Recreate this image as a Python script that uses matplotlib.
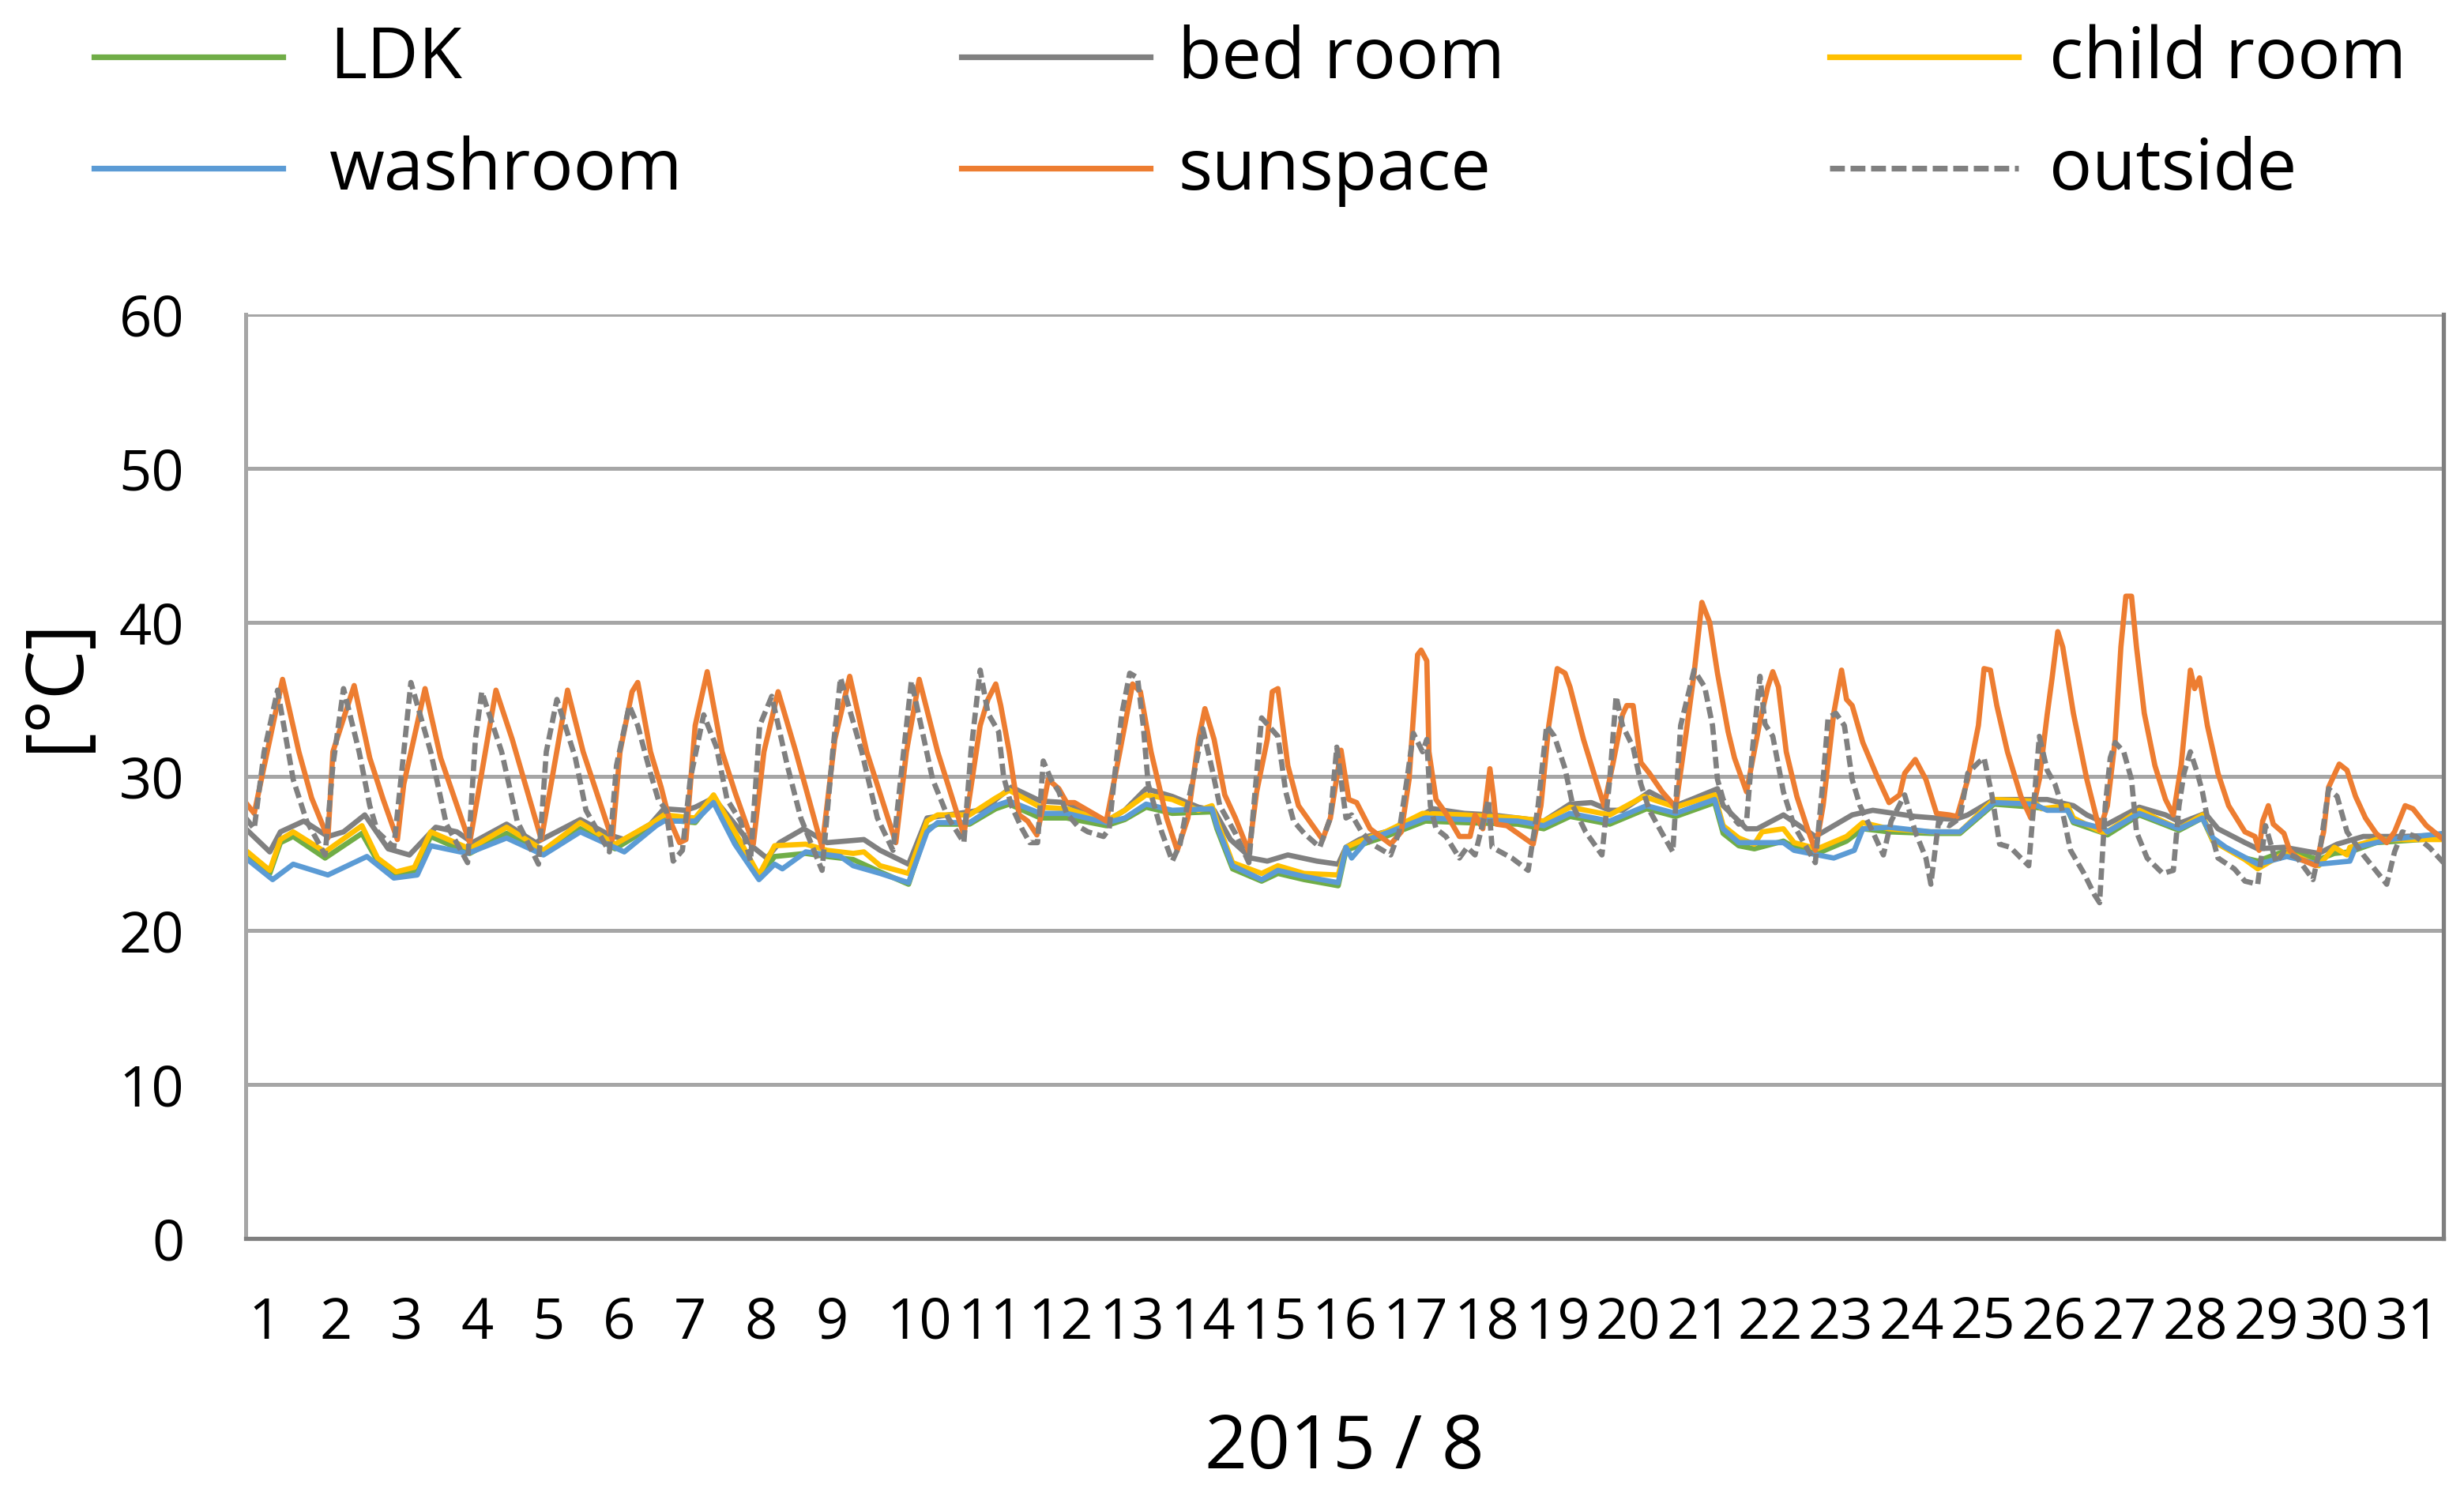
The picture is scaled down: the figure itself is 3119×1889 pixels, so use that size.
import matplotlib
matplotlib.use('Agg')
import matplotlib.pyplot as plt
from matplotlib.lines import Line2D

# ---------------- data (time in days since 2015-08-01 00:00, temperature in degC) ----------------
day_labels = [str(d) for d in range(1, 32)]

sun_t = [0.00, 0.12, 0.52, 0.75, 0.93, 1.16, 1.23, 1.53, 1.75, 1.94, 2.14, 2.23, 2.53, 2.75, 3.16, 3.53,
         3.76, 4.17, 4.54, 4.76, 5.17, 5.28, 5.45, 5.53, 5.71, 5.86, 5.97, 6.12, 6.21, 6.34, 6.51, 6.72,
         6.90, 7.16, 7.31, 7.51, 7.76, 8.13, 8.31, 8.52, 8.76, 9.17, 9.32, 9.50, 9.76, 10.13, 10.36, 10.47,
         10.58, 10.65, 10.77, 10.84, 10.91, 11.03, 11.16, 11.25, 11.32, 11.47, 11.58, 11.69, 12.14, 12.33,
         12.51, 12.62, 12.77, 12.99, 13.14, 13.29, 13.44, 13.53, 13.66, 13.81, 13.96, 14.15, 14.26, 14.41,
         14.48, 14.56, 14.70, 14.85, 15.19, 15.30, 15.45, 15.56, 15.67, 15.86, 16.15, 16.30, 16.41, 16.53,
         16.58, 16.66, 16.69, 16.79, 16.93, 17.12, 17.27, 17.34, 17.45, 17.55, 17.60, 17.64, 17.79, 18.16,
         18.27, 18.38, 18.50, 18.61, 18.68, 18.87, 19.05, 19.16, 19.28, 19.42, 19.48, 19.57, 19.68, 19.80,
         19.98, 20.17, 20.32, 20.43, 20.54, 20.65, 20.76, 20.91, 21.00, 21.17, 21.36, 21.47, 21.54, 21.62,
         21.73, 21.88, 22.03, 22.14, 22.25, 22.40, 22.51, 22.58, 22.66, 22.81, 23.03, 23.18, 23.33, 23.40,
         23.55, 23.70, 23.85, 24.03, 24.14, 24.29, 24.44, 24.52, 24.61, 24.70, 24.85, 25.04, 25.18, 25.30,
         25.41, 25.48, 25.56, 25.63, 25.78, 25.97, 26.15, 26.26, 26.37, 26.45, 26.52, 26.60, 26.67, 26.78,
         26.93, 27.08, 27.19, 27.30, 27.43, 27.49, 27.56, 27.67, 27.82, 27.97, 28.20, 28.34, 28.40, 28.45,
         28.53, 28.60, 28.75, 28.83, 28.94, 29.20, 29.31, 29.38, 29.53, 29.64, 29.76, 29.90, 30.05, 30.20,
         30.31, 30.46, 30.57, 30.76, 31.00]
sun_v = [28.3, 27.6, 36.3, 31.6, 28.6, 26.0, 31.6, 35.9, 31.2, 28.5, 25.9, 29.5, 35.7, 31.2, 25.7, 35.6,
         32.4, 25.9, 35.6, 31.6, 25.9, 31.6, 35.5, 36.1, 31.6, 29.3, 27.3, 25.7, 25.9, 33.3, 36.8, 31.6,
         29.0, 25.6, 31.6, 35.5, 31.6, 25.4, 32.4, 36.5, 31.6, 25.7, 31.6, 36.3, 31.6, 26.2, 33.3, 35.0,
         36.0, 34.6, 31.6, 29.5, 27.5, 27.1, 26.2, 28.1, 29.8, 29.2, 28.3, 28.3, 27.1, 31.6,
         36.0, 35.5, 31.6, 27.3, 25.2, 27.3, 32.4, 34.4, 32.4, 28.8, 27.3, 25.1, 29.0, 32.4,
         35.5, 35.7, 30.7, 28.1, 25.9, 27.3, 31.7, 28.5, 28.3, 26.6, 25.6, 26.4, 29.8, 37.9,
         38.2, 37.5, 31.6, 28.5, 27.6, 26.1, 26.1, 27.5, 26.6, 30.5, 28.7, 26.9, 26.8, 25.6,
         28.1, 33.3, 37.0, 36.7, 35.8, 32.4, 29.7, 28.1, 30.7, 34.0, 34.6, 34.6, 30.9, 30.2,
         29.0, 28.0, 32.9, 36.7, 41.3, 40.0, 36.7, 32.9, 31.2, 29.0, 33.6, 35.8, 36.8, 35.8,
         31.6, 28.7, 26.6, 25.2, 28.1, 34.1, 36.9, 35.0, 34.6, 32.2, 29.8, 28.3, 28.8, 30.2,
         31.1, 29.8, 27.6, 27.5, 27.4, 29.8, 33.3, 37.0, 36.9, 34.6, 31.6, 28.7, 27.3, 29.8,
         34.0, 36.4, 39.4, 38.4, 34.1, 29.8, 26.5, 28.1, 32.4, 38.4, 41.7, 41.7, 38.4, 34.1,
         30.7, 28.5, 27.5, 30.7, 36.9, 35.7, 36.4, 33.3, 30.2, 28.1, 26.4, 26.1, 25.2, 27.1,
         28.1, 26.9, 26.3, 25.2, 24.7, 24.2, 26.4, 29.3, 30.8, 30.4, 28.7, 27.3, 26.3, 25.7,
         26.4, 28.1, 27.9, 26.8, 25.9]

out_t = [0.00, 0.12, 0.26, 0.45, 0.67, 0.86, 1.12, 1.23, 1.38, 1.60, 1.75, 1.86, 2.09, 2.23, 2.33, 2.61,
         2.83, 3.13, 3.24, 3.33, 3.61, 3.83, 4.13, 4.24, 4.39, 4.65, 4.80, 5.13, 5.23, 5.41, 5.53, 5.71,
         5.82, 5.93, 6.03, 6.16, 6.27, 6.46, 6.64, 6.79, 6.98, 7.12, 7.25, 7.42, 7.64, 7.83, 8.13, 8.28,
         8.39, 8.69, 8.91, 9.13, 9.28, 9.39, 9.69, 9.91, 10.13, 10.23, 10.36, 10.47, 10.62, 10.69, 10.80,
         10.95, 11.06, 11.17, 11.25, 11.36, 11.47, 11.58, 11.73, 11.88, 12.10, 12.18, 12.25, 12.36, 12.47,
         12.58, 12.66, 12.73, 12.92, 13.07, 13.18, 13.26, 13.40, 13.50, 13.63, 13.74, 13.96, 14.15, 14.22,
         14.33, 14.56, 14.67, 14.78, 14.93, 15.15, 15.30, 15.39, 15.52, 15.60, 15.74, 15.89, 16.15, 16.27,
         16.38, 16.47, 16.60, 16.66, 16.71, 16.79, 16.93, 17.12, 17.23, 17.34, 17.42, 17.53, 17.58, 17.86,
         18.09, 18.23, 18.35, 18.46, 18.61, 18.72, 18.90, 19.13, 19.24, 19.33, 19.42, 19.57, 19.68, 19.80,
         19.98, 20.13, 20.24, 20.43, 20.58, 20.69, 20.76, 20.84, 20.98, 21.06, 21.17, 21.25, 21.36, 21.43,
         21.54, 21.69, 21.84, 21.99, 22.14, 22.25, 22.32, 22.43, 22.55, 22.66, 22.77, 22.95, 23.10, 23.21,
         23.40, 23.55, 23.70, 23.77, 23.88, 24.03, 24.18, 24.29, 24.44, 24.52, 24.63, 24.74, 24.89, 25.04,
         25.15, 25.22, 25.30, 25.41, 25.52, 25.59, 25.74, 25.93, 26.08, 26.15, 26.23, 26.30, 26.37, 26.49,
         26.60, 26.67, 26.82, 27.04, 27.19, 27.27, 27.34, 27.43, 27.53, 27.60, 27.67, 27.82, 28.05, 28.20,
         28.38, 28.49, 28.64, 28.75, 28.94, 29.16, 29.27, 29.38, 29.50, 29.64, 29.87, 30.20, 30.31, 30.42,
         30.61, 30.80, 31.00]
out_v = [27.3, 26.6, 31.6, 35.6, 29.8, 27.1, 24.9, 30.7, 35.7, 31.6, 28.1, 26.4, 25.4, 31.6, 36.1, 31.6,
         26.9, 24.4, 32.4, 35.5, 31.6, 27.1, 24.3, 31.6, 35.0, 31.2, 27.8, 25.1, 30.7, 34.6, 33.3, 30.2,
         28.5, 27.8, 24.5, 25.2, 29.8, 34.0, 31.9, 28.5, 27.1, 24.5, 33.3, 35.2, 30.7, 27.3, 23.9, 31.6,
         36.4, 31.6, 27.3, 25.2, 31.6, 36.2, 29.8, 27.3, 25.7, 31.6, 36.9, 34.1, 32.9, 30.0, 28.1,
         26.6, 25.7, 25.7, 31.0, 29.8, 29.0, 27.6, 26.8, 26.4, 26.1, 26.6, 29.8, 34.1, 36.7,
         36.4, 33.3, 29.5, 26.4, 24.5, 25.6, 27.6, 30.7, 33.1, 30.5, 28.1, 26.3, 24.4, 28.1,
         33.8, 32.6, 29.0, 27.1, 26.3, 25.4, 27.3, 31.9, 27.3, 27.5, 26.4, 25.6, 24.9, 26.4,
         29.8, 32.8, 31.6, 32.4, 28.1, 26.6, 26.1, 24.7, 25.4, 24.9, 26.4, 28.5, 25.4, 24.7,
         23.9, 28.1, 33.3, 32.6, 30.5, 28.1, 26.4, 24.9, 29.8, 35.2, 33.3, 31.9, 29.5, 27.8,
         26.3, 25.1, 33.3, 36.9, 35.8, 33.3, 29.8, 28.5, 27.3, 26.9, 27.1, 31.6, 36.5, 33.4,
         32.6, 29.0, 26.8, 25.6, 24.4, 29.8, 33.8, 34.1, 33.3, 29.8, 28.1, 26.4, 24.9, 27.1,
         28.8, 26.4, 24.7, 23.0, 27.1, 26.8, 27.3, 30.2, 30.9, 31.2, 28.8, 25.6, 25.4, 24.7,
         24.2, 28.1, 32.6, 30.4, 29.5, 28.5, 25.2, 23.7, 22.3, 21.8, 28.1, 31.2, 32.2, 31.6,
         29.8, 26.4, 24.7, 23.7, 23.9, 28.1, 30.2, 31.6, 30.2, 29.0, 27.3, 24.7, 24.0, 23.2,
         23.0, 26.8, 24.4, 25.1, 24.7, 23.3, 25.6, 29.2, 28.7, 26.4, 24.9, 23.0, 25.1, 26.4,
         26.1, 25.4, 24.4]

bed_t = [0.00, 0.34, 0.49, 0.82, 1.16, 1.38, 1.68, 2.01, 2.31, 2.68, 2.98, 3.20, 3.68, 4.09, 4.72, 5.13,
         5.34, 5.71, 5.90, 6.20, 6.34, 6.60, 6.90, 7.16, 7.35, 7.53, 7.87, 8.20, 8.72, 8.95, 9.35, 9.61,
         10.21, 10.47, 10.58, 10.80, 11.21, 11.58, 12.14, 12.40, 12.70, 13.07, 13.44, 13.66, 13.89, 14.18,
         14.41, 14.70, 15.11, 15.41, 15.52, 15.71, 15.82, 16.08, 16.45, 16.75, 17.19, 17.57, 17.94, 18.31,
         18.68, 18.98, 19.24, 19.42, 19.80, 20.17, 20.39, 20.76, 20.84, 20.95, 21.17, 21.32, 21.69, 22.14,
         22.66, 22.95, 23.55, 24.11, 24.29, 24.66, 25.22, 25.41, 25.78, 25.97, 26.26, 26.71, 27.08, 27.30,
         27.64, 27.82, 28.20, 28.38, 28.75, 29.24, 29.50, 29.87, 30.42, 31.00]
bed_v = [26.6, 25.1, 26.4, 27.1, 26.1, 26.4, 27.5, 25.3, 24.9, 26.7, 26.4, 25.7, 26.9, 25.7, 27.2, 26.2,
         25.9, 26.9, 27.9, 27.8, 28.0, 28.6, 26.9, 25.4, 24.7, 25.7, 26.6, 25.7, 25.9, 25.2, 24.3, 27.3,
         27.7, 27.9, 28.5, 29.3, 28.4, 28.3, 27.1, 27.8, 29.2, 28.7, 28.0, 27.8, 25.9, 24.7,
         24.5, 24.9, 24.5, 24.3, 25.4, 25.9, 26.1, 26.4, 27.1, 27.9, 27.6, 27.5, 27.3, 27.1,
         28.2, 28.3, 27.8, 27.8, 29.0, 28.1, 28.5, 29.2, 28.1, 27.6, 26.6, 26.6, 27.5, 26.1,
         27.5, 27.8, 27.4, 27.2, 27.5, 28.5, 28.5, 28.5, 28.1, 27.5, 26.9, 28.0, 27.5, 27.0,
         27.6, 26.6, 25.7, 25.3, 25.4, 25.0, 25.6, 26.1, 26.1, 26.2]

child_t = [0.00, 0.34, 0.49, 0.67, 1.12, 1.64, 1.86, 2.12, 2.38, 2.61, 3.16, 3.68, 4.20, 4.72, 5.21, 5.71,
           5.90, 6.34, 6.60, 6.90, 7.24, 7.46, 7.90, 8.20, 8.57, 8.72, 8.95, 9.35, 9.61, 9.76, 10.21, 10.58,
           10.77, 11.21, 11.58, 12.14, 12.40, 12.70, 13.07, 13.44, 13.63, 13.70, 13.92, 14.33, 14.56, 14.93,
           15.41, 15.52, 15.82, 16.08, 16.60, 17.19, 17.94, 18.31, 18.68, 19.24, 19.72, 20.17, 20.72, 20.84,
           21.06, 21.28, 21.39, 21.69, 21.84, 22.17, 22.58, 22.81, 23.18, 23.77, 24.18, 24.66, 25.22, 25.33,
           25.70, 25.78, 26.22, 26.71, 27.27, 27.60, 27.75, 28.20, 28.38, 28.79, 29.24, 29.46, 29.64, 29.68,
           30.05, 31.00]
child_v = [25.2, 23.9, 25.9, 26.4, 25.1, 26.8, 24.7, 23.8, 24.1, 26.4, 25.3, 26.7, 25.2, 27.0, 25.6, 26.9,
           27.5, 27.3, 28.8, 26.4, 23.6, 25.5, 25.6, 25.2, 25.0, 25.1, 24.2, 23.7, 27.1, 27.5, 27.5, 28.6,
           29.1, 28.0, 27.9, 27.1, 27.8, 28.8, 28.5, 27.8, 28.1, 27.1, 24.4, 23.7, 24.2, 23.7,
           23.6, 25.4, 26.0, 26.4, 27.6, 27.5, 27.3, 27.1, 28.0, 27.5, 28.7, 28.0, 28.8, 26.8,
           26.0, 25.6, 26.4, 26.6, 25.7, 25.3, 26.1, 27.0, 26.6, 26.4, 26.4, 28.5, 28.4, 27.9,
           28.1, 27.3, 26.3, 27.8, 26.6, 27.5, 25.8, 24.6, 24.0, 25.1, 24.2, 25.4, 24.9, 25.4,
           25.9, 25.9]

wash_t = [0.00, 0.38, 0.67, 1.16, 1.71, 2.09, 2.42, 2.61, 3.13, 3.68, 4.20, 4.72, 5.34, 5.79, 5.90, 6.34,
          6.60, 6.90, 7.24, 7.46, 7.57, 7.90, 8.39, 8.57, 8.95, 9.35, 9.61, 9.76, 10.21, 10.58, 10.77, 11.21,
          11.58, 12.14, 12.40, 12.70, 13.07, 13.63, 13.70, 13.92, 14.33, 14.56, 14.93, 15.41, 15.52, 15.60,
          15.82, 16.08, 16.64, 17.19, 17.94, 18.31, 18.68, 19.24, 19.76, 20.17, 20.72, 20.84, 21.06, 21.28,
          21.69, 21.84, 22.40, 22.69, 22.81, 23.18, 23.77, 24.18, 24.66, 25.22, 25.41, 25.70, 25.78, 26.22,
          26.26, 26.71, 27.27, 27.60, 27.75, 27.93, 28.38, 28.79, 29.24, 29.68, 29.76, 30.24, 31.00]
wash_v = [24.7, 23.3, 24.3, 23.6, 24.8, 23.4, 23.6, 25.5, 25.0, 26.0, 24.9, 26.4, 25.1, 26.8, 27.1, 27.1,
          28.3, 25.6, 23.3, 24.3, 24.0, 25.1, 24.8, 24.2, 23.7, 23.1, 26.4, 27.0, 27.0, 28.1, 28.4, 27.6,
          27.6, 27.0, 27.3, 28.2, 27.8, 27.9, 26.8, 24.2, 23.3, 23.9, 23.5, 23.1, 25.4, 24.7,
          25.9, 26.3, 27.3, 27.2, 27.1, 26.8, 27.6, 27.1, 28.1, 27.6, 28.5, 26.6, 25.7, 25.7,
          25.7, 25.2, 24.7, 25.2, 26.6, 26.7, 26.4, 26.4, 28.3, 28.2, 27.8, 27.8, 27.1, 26.6,
          26.4, 27.6, 26.6, 27.3, 26.0, 25.4, 24.3, 24.8, 24.3, 24.5, 25.4, 25.9, 26.3]

ldk_t = [0.00, 0.34, 0.49, 0.67, 1.12, 1.64, 1.86, 2.12, 2.38, 2.61, 3.16, 3.68, 4.20, 4.72, 5.21, 5.71,
         5.90, 6.34, 6.60, 6.90, 7.24, 7.46, 7.90, 8.20, 8.57, 8.95, 9.35, 9.61, 9.76, 10.21, 10.58, 10.77,
         11.21, 11.58, 12.14, 12.40, 12.70, 13.07, 13.63, 13.70, 13.92, 14.33, 14.56, 14.93, 15.41, 15.52,
         15.82, 16.08, 16.64, 17.19, 17.94, 18.31, 18.68, 19.24, 19.76, 20.17, 20.72, 20.84, 21.06, 21.28,
         21.69, 21.84, 22.17, 22.58, 22.81, 23.18, 23.77, 24.18, 24.66, 25.22, 25.41, 25.70, 25.78, 26.22,
         26.26, 26.71, 27.27, 27.60, 27.75, 28.20, 28.38, 28.79, 29.24, 29.46, 29.68, 30.05, 31.00]
ldk_v = [25.0, 23.7, 25.7, 26.1, 24.7, 26.3, 24.5, 23.6, 23.9, 26.1, 25.0, 26.3, 25.0, 26.6, 25.3, 26.7,
         27.2, 27.0, 28.5, 26.0, 23.4, 24.8, 25.0, 24.8, 24.6, 23.8, 23.0, 26.6, 26.9, 26.9, 27.9, 28.2,
         27.3, 27.3, 26.8, 27.2, 28.0, 27.6, 27.7, 26.6, 24.0, 23.2, 23.7, 23.3, 22.9, 25.2,
         25.7, 26.1, 27.1, 27.0, 26.9, 26.6, 27.4, 26.9, 27.9, 27.4, 28.3, 26.3, 25.5, 25.3,
         25.8, 25.4, 25.0, 25.8, 26.6, 26.4, 26.3, 26.3, 28.2, 28.0, 27.9, 27.8, 27.0, 26.3,
         26.2, 27.5, 26.5, 27.3, 25.8, 24.7, 24.5, 25.2, 24.6, 25.0, 25.1, 25.7, 26.0]

series_names = ['LDK', 'bed room', 'child room', 'washroom', 'sunspace', 'outside']
series_colors = ['#70AD47', '#808080', '#FFC000', '#5B9BD5', '#ED7D31', '#808080']

# ---------------- figure ----------------
W, H = 3119, 1889
plt.rcParams['font.family'] = ['Open Sans', 'DejaVu Sans']
fig = plt.figure(figsize=(W / 100, H / 100), dpi=100)
ax = fig.add_axes([311 / W, 1 - 1568 / H, (3093 - 311) / W, (1568 - 398) / H])

LW = 4.8
data = [(ldk_t, ldk_v), (bed_t, bed_v), (child_t, child_v), (wash_t, wash_v), (sun_t, sun_v), (out_t, out_v)]
handles = []
for (t, v), name, col in zip(data, series_names, series_colors):
    if name == 'outside':
        ln, = ax.plot(t, v, color=col, lw=LW, linestyle=(0, (2.2, 1.0)), label=name,
                      dash_joinstyle='round')
    else:
        ln, = ax.plot(t, v, color=col, lw=LW, label=name, solid_joinstyle='round')
    handles.append(ln)

ax.set_xlim(0, 31)
ax.set_ylim(0, 60)
ax.set_yticks(range(0, 61, 10))
ax.yaxis.grid(True, color='#A6A6A6', lw=3.6)
ax.set_axisbelow(True)
ax.set_xticks([d - 1 + 0.04 for d in range(1, 32)])
ax.set_xticklabels(day_labels, ha='left')
ax.tick_params(axis='both', length=0, labelsize=52)
ax.tick_params(axis='x', pad=52)
ax.tick_params(axis='y', pad=56)

ax.spines['top'].set_visible(False)
ax.spines['left'].set_color('#A6A6A6')
ax.spines['left'].set_linewidth(3.6)
ax.spines['bottom'].set_color('#7F7F7F')
ax.spines['bottom'].set_linewidth(3.8)
ax.spines['right'].set_color('#7F7F7F')
ax.spines['right'].set_linewidth(3.8)

fig.text(1702 / W, 1 - 1834 / H, '2015 / 8', ha='center', va='center', fontsize=68)
fig.text(72 / W, 1 - 866 / H, '[°C]', rotation=90, ha='center', va='center', fontsize=72)

# ---------------- legend (2 rows x 3 columns, drawn at fixed positions) ----------------
col_x0 = [119, 1217, 2316]
col_tx = [417, 1491, 2594]
row_y = [72, 213]
HL = 239
for i, (ln, name) in enumerate(zip(handles, series_names)):
    r, c = divmod(i, 3)
    y = 1 - row_y[r] / H
    kw = dict(color=ln.get_color(), lw=5.2, transform=fig.transFigure)
    if name == 'outside':
        kw['linestyle'] = (0, (2.6, 1.0))
    fig.add_artist(Line2D([col_x0[c] / W, (col_x0[c] + HL) / W], [y, y], **kw))
    fig.text(col_tx[c] / W, 1 - (row_y[r] + 27) / H, name, ha='left', va='baseline', fontsize=65)

fig.savefig('out.png', dpi=100)
